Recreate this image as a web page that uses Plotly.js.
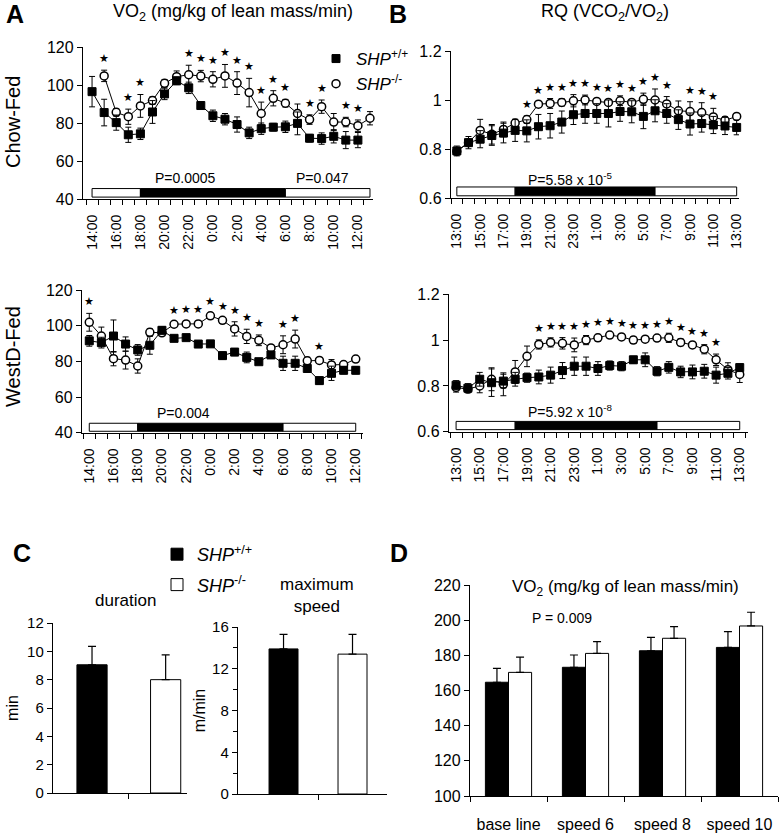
<!DOCTYPE html>
<html><head><meta charset="utf-8">
<script src="https://cdn.plot.ly/plotly-3.0.1.min.js"></script>
<style>html,body{margin:0;padding:0;background:#fff}#chart{width:781px;height:834px}</style>
</head><body><div id="chart"></div>
<script>
// ================= DATA =================
const genotypes = ['+/+', '-/-'];

// Panel A top: VO2, Chow-Fed
const hoursA1 = ['14:00','15:00','16:00','17:00','18:00','19:00','20:00','21:00','22:00','23:00','0:00','1:00','2:00','3:00','4:00','5:00','6:00','7:00','8:00','9:00','10:00','11:00','12:00','13:00'];
const chowVO2_WT    = [96.5, 85.5, 80.2, 73.8, 74.3, 85.8, 95.3, 102.2, 98.5, 89.2, 83.8, 82.0, 79.2, 74.8, 77.0, 77.8, 78.0, 79.8, 72.0, 71.8, 73.0, 71.0, 71.0, null];
const chowVO2_WTerr = [8, 7, 4, 4, 3, 6, 3, 2, 3, 1.5, 3, 3, 4, 3, 3, 2, 3, 6, 2, 3, 3.5, 4.5, 4, null];
const chowVO2_KO    = [null, 104.8, 85.6, 83.3, 89.0, 91.8, 100.9, 104.4, 105.4, 104.7, 103.0, 104.8, 101.0, 96.0, 85.0, 93.0, 90.4, 85.0, 81.8, 88.6, 80.5, 80.5, 78.6, 82.5];
const chowVO2_KOerr = [null, 3, 2, 4, 6, 2, 2, 3, 5, 3, 4, 6, 6, 7.5, 6, 4, 2, 5, 2.5, 3.5, 4.5, 2.5, 3, 3.5];
const chowVO2_stars = ['15:00','17:00','18:00','22:00','23:00','0:00','1:00','2:00','3:00','4:00','5:00','6:00','8:00','9:00','11:00','12:00'];

// Panel A bottom: VO2, WestD-Fed
const hoursA2 = ['14:00','15:00','16:00','17:00','18:00','19:00','20:00','21:00','22:00','23:00','0:00','1:00','2:00','3:00','4:00','5:00','6:00','7:00','8:00','9:00','10:00','11:00','12:00'];
const westVO2_WT    = [91.5, 90.5, 94.2, 89.7, 86.4, 89.0, 97.4, 92.9, 93.3, 89.7, 89.8, 83.2, 85.2, 82.2, 79.8, 83.6, 78.9, 78.9, 76.0, 69.2, 73.3, 75.0, 75.0];
const westVO2_WTerr = [3, 3, 9, 4, 3, 5, 2, 1.5, 1.5, 1.5, 1.5, 2, 2, 3, 1.5, 2, 4, 4, 2, 2, 4, 2, 2];
const westVO2_KO    = [101.9, 94.2, 81.5, 80.7, 77.4, 96.3, 96.0, 100.8, 101.0, 101.0, 105.5, 103.0, 98.2, 94.0, 91.8, 87.5, 89.3, 92.5, 80.3, 80.5, 78.0, 78.2, 81.3];
const westVO2_KOerr = [5, 5, 4, 5, 4, 2, 1.5, 1.5, 1.5, 1.5, 1.5, 1.5, 4, 4, 3, 1.5, 5, 5, 2, 1.5, 3, 1.5, 1.5];
const westVO2_stars = ['14:00','21:00','22:00','23:00','0:00','1:00','2:00','3:00','4:00','6:00','7:00','9:00'];

// Panel B: RQ
const hoursB = ['13:00','14:00','15:00','16:00','17:00','18:00','19:00','20:00','21:00','22:00','23:00','0:00','1:00','2:00','3:00','4:00','5:00','6:00','7:00','8:00','9:00','10:00','11:00','12:00','13:00'];
const chowRQ_WT    = [0.792, 0.826, 0.840, 0.855, 0.865, 0.876, 0.874, 0.891, 0.895, 0.910, 0.940, 0.945, 0.945, 0.945, 0.953, 0.952, 0.933, 0.956, 0.945, 0.920, 0.902, 0.904, 0.898, 0.894, 0.888];
const chowRQ_WTerr = [0.02, 0.025, 0.035, 0.04, 0.04, 0.045, 0.045, 0.05, 0.05, 0.045, 0.04, 0.04, 0.04, 0.055, 0.04, 0.045, 0.05, 0.045, 0.04, 0.04, 0.045, 0.035, 0.035, 0.035, 0.03];
const chowRQ_KO    = [0.790, 0.826, 0.876, 0.860, 0.880, 0.906, 0.920, 0.983, 0.986, 0.990, 0.997, 1.000, 0.994, 0.990, 0.997, 0.990, 1.003, 1.000, 0.984, 0.956, 0.953, 0.949, 0.931, 0.917, 0.933];
const chowRQ_KOerr = [0.01, 0.01, 0.045, 0.04, 0.03, 0.015, 0.015, 0.01, 0.02, 0.015, 0.025, 0.02, 0.01, 0.01, 0.02, 0.01, 0.025, 0.045, 0.03, 0.04, 0.04, 0.04, 0.035, 0.015, 0.005];
const chowRQ_stars = ['19:00','20:00','21:00','22:00','23:00','0:00','1:00','2:00','3:00','4:00','5:00','6:00','7:00','9:00','10:00','11:00'];

const westRQ_WT    = [0.803, 0.790, 0.829, 0.814, 0.821, 0.829, 0.836, 0.839, 0.847, 0.867, 0.886, 0.886, 0.876, 0.889, 0.886, 0.914, 0.914, 0.864, 0.881, 0.861, 0.861, 0.864, 0.847, 0.855, 0.880];
const westRQ_WTerr = [0.02, 0.02, 0.03, 0.06, 0.03, 0.03, 0.02, 0.03, 0.035, 0.035, 0.04, 0.04, 0.03, 0.02, 0.02, 0.015, 0.03, 0.02, 0.025, 0.025, 0.03, 0.03, 0.035, 0.025, 0.015];
const westRQ_KO    = [0.793, 0.786, 0.800, 0.829, 0.807, 0.861, 0.929, 0.981, 0.990, 0.986, 0.979, 1.000, 1.010, 1.022, 1.014, 1.000, 1.004, 1.009, 1.010, 0.990, 0.979, 0.960, 0.914, 0.871, 0.850];
const westRQ_KOerr = [0.02, 0.01, 0.03, 0.05, 0.05, 0.05, 0.045, 0.02, 0.02, 0.025, 0.03, 0.02, 0.015, 0.01, 0.01, 0.015, 0.01, 0.01, 0.02, 0.015, 0.01, 0.02, 0.025, 0.03, 0.035];
const westRQ_stars = ['20:00','21:00','22:00','23:00','0:00','1:00','2:00','3:00','4:00','5:00','6:00','7:00','8:00','9:00','10:00','11:00'];

const darkStart = '18:00', darkEnd = '6:00';

// Panel C: treadmill exhaustion
const durationMean = [9.05, 8.0];
const durationErr  = [1.3, 1.75];
const speedMean    = [13.9, 13.4];
const speedErr     = [1.4, 1.9];

// Panel D: VO2 during exercise
const stages   = ['base line', 'speed 6', 'speed 8', 'speed 10'];
const exVO2_WT    = [164.7, 173.2, 182.6, 184.5];
const exVO2_WTerr = [7.9, 7.0, 7.6, 9.0];
const exVO2_KO    = [170.3, 181.1, 189.7, 196.7];
const exVO2_KOerr = [8.7, 6.7, 6.6, 7.8];

// ================= STYLE / LAYOUT =================
const W = 781, H = 834;
const px = v => v / W, py = v => 1 - v / H;
const FONT = 'Arial, "Liberation Sans", sans-serif';
const BLK = 'black';
const gLabel = g => '<i>SHP</i><sup>' + g + '</sup>';
const wtMarker = {symbol: 'square', size: 8, color: BLK, line: {color: BLK, width: 1}};
const koMarker = {symbol: 'circle', size: 8, color: 'white', line: {color: BLK, width: 1.5}};

const data = [];
const annotations = [];
const shapes = [];

function linePanel(xa, ya, labels, wt, wtErr, ko, koErr, stars, lightY) {
  const x = labels.map((_, i) => i);
  data.push({type: 'scatter', mode: 'lines+markers', x, y: ko, xaxis: xa, yaxis: ya,
    name: gLabel(genotypes[1]), showlegend: false, cliponaxis: false,
    line: {color: BLK, width: 1}, marker: koMarker,
    error_y: {type: 'data', array: koErr, color: BLK, thickness: 1, width: 3}});
  data.push({type: 'scatter', mode: 'lines+markers', x, y: wt, xaxis: xa, yaxis: ya,
    name: gLabel(genotypes[0]), showlegend: false, cliponaxis: false,
    line: {color: BLK, width: 1}, marker: wtMarker,
    error_y: {type: 'data', array: wtErr, color: BLK, thickness: 1, width: 3}});
  const xref = 'x' + (xa === 'x' ? '' : xa.slice(1));
  const yref = 'y' + (ya === 'y' ? '' : ya.slice(1));
  stars.forEach(s => {
    const i = labels.indexOf(s);
    const tops = [];
    if (ko[i] != null) tops.push(ko[i] + (koErr[i] || 0));
    if (wt[i] != null) tops.push(wt[i] + (wtErr[i] || 0));
    annotations.push({xref, yref, x: i, y: Math.max(...tops), text: '★', showarrow: false,
      xanchor: 'center', yanchor: 'middle', yshift: 12, font: {size: 11, color: BLK}});
  });
  // light / dark bar
  const n = labels.length - 1;
  const ds = labels.indexOf(darkStart), de = labels.indexOf(darkEnd);
  [[0, ds, 'white'], [ds, de, BLK], [de, n, 'white']].forEach(([a, b, c]) => {
    shapes.push({type: 'rect', xref, yref, x0: a, x1: b, y0: lightY[0], y1: lightY[1],
      fillcolor: c, line: {color: BLK, width: 1}});
  });
}

linePanel('x', 'y', hoursA1, chowVO2_WT, chowVO2_WTerr, chowVO2_KO, chowVO2_KOerr, chowVO2_stars, [41, 45.5]);
linePanel('x2', 'y2', hoursB, chowRQ_WT, chowRQ_WTerr, chowRQ_KO, chowRQ_KOerr, chowRQ_stars, [0.609, 0.645]);
linePanel('x3', 'y3', hoursA2, westVO2_WT, westVO2_WTerr, westVO2_KO, westVO2_KOerr, westVO2_stars, [40.8, 45.3]);
linePanel('x4', 'y4', hoursB, westRQ_WT, westRQ_WTerr, westRQ_KO, westRQ_KOerr, westRQ_stars, [0.609, 0.645]);

// legend entries for panel A
data.push({type: 'scatter', mode: 'markers', x: [null], y: [null], xaxis: 'x', yaxis: 'y',
  name: gLabel(genotypes[0]), marker: wtMarker, legend: 'legend'});
data.push({type: 'scatter', mode: 'markers', x: [null], y: [null], xaxis: 'x', yaxis: 'y',
  name: gLabel(genotypes[1]), marker: koMarker, legend: 'legend'});

// Panel C bars
const barFill = ['black', 'white'];
genotypes.forEach((g, i) => {
  data.push({type: 'bar', x: [i], y: [durationMean[i]], width: 0.41, xaxis: 'x5', yaxis: 'y5',
    name: gLabel(g), legend: 'legend2', showlegend: true, legendgroup: 'g' + i,
    marker: {color: barFill[i], line: {color: BLK, width: 1}},
    error_y: {type: 'data', symmetric: false, array: [durationErr[i]], arrayminus: [0], color: BLK, thickness: 1.2, width: 4}});
  data.push({type: 'bar', x: [i], y: [speedMean[i]], width: 0.42, xaxis: 'x6', yaxis: 'y6',
    name: gLabel(g), showlegend: false,
    marker: {color: barFill[i], line: {color: BLK, width: 1}},
    error_y: {type: 'data', symmetric: false, array: [speedErr[i]], arrayminus: [0], color: BLK, thickness: 1.2, width: 4}});
});

// Panel D bars
const sx = stages.map((_, i) => i);
[[exVO2_WT, exVO2_WTerr, -0.3, 0], [exVO2_KO, exVO2_KOerr, 0, 1]].forEach(([y, e, off, gi]) => {
  data.push({type: 'bar', x: sx, y, width: 0.3, offset: off, xaxis: 'x7', yaxis: 'y7',
    name: gLabel(genotypes[gi]), showlegend: false,
    marker: {color: barFill[gi], line: {color: BLK, width: 1}},
    error_y: {type: 'data', symmetric: false, array: e, arrayminus: e.map(() => 0), color: BLK, thickness: 1.2, width: 4}});
});

// ---------- axes ----------
function timeX(domain, range, labels, anchor) {
  const idx = labels.map((_, i) => i).filter(i => i % 2 === 0);
  return {domain, range, anchor, showline: true, linecolor: BLK, linewidth: 1.2, zeroline: false, showgrid: false,
    tickmode: 'array', tickvals: idx, ticktext: idx.map(i => labels[i]), ticks: '', tickangle: -90,
    ticklabelstandoff: 9, tickfont: {family: FONT, size: 14, color: BLK},
    minor: {tickmode: 'linear', tick0: -0.5, dtick: 1, ticks: 'outside', ticklen: 5, tickwidth: 1, tickcolor: BLK, showgrid: false}};
}
function valY(domain, range, dtick, anchor, size, extra) {
  return Object.assign({domain, range, anchor, showline: true, linecolor: BLK, linewidth: 1.2, zeroline: false, showgrid: false,
    tickmode: 'linear', tick0: range[0], dtick, ticks: 'outside', ticklen: 5, tickwidth: 1, tickcolor: BLK,
    tickfont: {family: FONT, size, color: BLK}}, extra || {});
}
function catX(domain, range, tickvals, anchor, extra) {
  return Object.assign({domain, range, anchor, showline: true, linecolor: BLK, linewidth: 1.2, zeroline: false, showgrid: false,
    tickmode: 'array', tickvals, showticklabels: false, ticks: 'outside', ticklen: 5, tickcolor: BLK,
    tickfont: {family: FONT, size: 16, color: BLK}}, extra || {});
}

const layout = {
  width: W, height: H, margin: {l: 0, r: 0, t: 0, b: 0}, paper_bgcolor: 'white', plot_bgcolor: 'rgba(0,0,0,0)',
  font: {family: FONT, color: BLK}, barmode: 'overlay', hovermode: false,
  xaxis:  timeX([px(83), px(373)], [-0.75, 23.25], hoursA1, 'y'),
  yaxis:  valY([py(199), py(47)], [40, 120], 20, 'x', 16),
  xaxis2: timeX([px(451), px(739)], [-0.5, 24.2], hoursB, 'y2'),
  yaxis2: valY([py(198), py(51)], [0.6, 1.2], 0.2, 'x2', 16),
  xaxis3: timeX([px(82), px(363)], [-0.6, 22.6], hoursA2, 'y3'),
  yaxis3: valY([py(432.7), py(290)], [40, 120], 20, 'x3', 16),
  xaxis4: timeX([px(449), px(748)], [-0.6, 24.7], hoursB, 'y4'),
  yaxis4: valY([py(431.7), py(294.3)], [0.6, 1.2], 0.2, 'x4', 16),
  xaxis5: catX([px(53), px(187)], [-0.53, 1.29], [0.5], 'y5'),
  yaxis5: valY([py(793), py(623)], [0, 12], 2, 'x5', 15,
    {title: {text: 'min', font: {family: FONT, size: 16, color: BLK}, standoff: 4}}),
  xaxis6: catX([px(238), px(387)], [-0.66, 1.5], [0.5], 'y6'),
  yaxis6: valY([py(794), py(627)], [0, 16], 4, 'x6', 15,
    {minor: {tickmode: 'linear', tick0: 0, dtick: 2, ticks: 'outside', ticklen: 4, tickcolor: BLK},
     title: {text: 'm/min', font: {family: FONT, size: 16, color: BLK}, standoff: 2}}),
  xaxis7: catX([px(470), px(778)], [-0.5, 3.5], sx, 'y7',
    {ticks: '', showticklabels: true, ticktext: stages, ticklabelstandoff: 14,
     minor: {tickmode: 'linear', tick0: -0.5, dtick: 1, ticks: 'outside', ticklen: 5, tickcolor: BLK}}),
  yaxis7: valY([py(796), py(585)], [100, 220], 20, 'x7', 16),
  legend: {x: px(316), y: py(41), xanchor: 'left', yanchor: 'top', bgcolor: 'rgba(0,0,0,0)',
    font: {family: FONT, size: 17, color: BLK}, itemclick: false, itemdoubleclick: false, tracegroupgap: 0},
  legend2: {x: px(157), y: py(536), xanchor: 'left', yanchor: 'top', bgcolor: 'rgba(0,0,0,0)',
    font: {family: FONT, size: 18, color: BLK}, itemclick: false, itemdoubleclick: false, tracegroupgap: 4},
  shapes,
  annotations: annotations.concat([
    {text: '<b>A</b>', x: px(15), y: py(14), size: 25},
    {text: 'VO<sub>2</sub> (mg/kg of lean mass/min)', x: px(233), y: py(12), size: 18},
    {text: '<b>B</b>', x: px(398), y: py(14), size: 25},
    {text: 'RQ (VCO<sub>2</sub>/VO<sub>2</sub>)', x: px(605), y: py(12), size: 18},
    {text: 'Chow-Fed', x: px(13), y: py(122), size: 20, angle: -90},
    {text: 'WestD-Fed', x: px(13), y: py(357), size: 20, angle: -90},
    {text: 'P=0.0005', x: px(185), y: py(178), size: 14},
    {text: 'P=0.047', x: px(322), y: py(178), size: 14},
    {text: 'P=0.004', x: px(183), y: py(413), size: 14},
    {text: 'P=5.58 x 10<sup>-5</sup>', x: px(570), y: py(179), size: 14},
    {text: 'P=5.92 x 10<sup>-8</sup>', x: px(570), y: py(411), size: 14},
    {text: '<b>C</b>', x: px(22), y: py(553), size: 25},
    {text: '<b>D</b>', x: px(399), y: py(553), size: 25},
    {text: 'duration', x: px(125), y: py(600), size: 17},
    {text: 'maximum<br>speed', x: px(317), y: py(595), size: 17},
    {text: 'VO<sub>2</sub> (mg/kg of lean mass/min)', x: px(625), y: py(588), size: 17},
    {text: 'P = 0.009', x: px(562), y: py(618), size: 14}
  ].map(a => ({xref: 'paper', yref: 'paper', x: a.x, y: a.y, text: a.text, showarrow: false,
    xanchor: 'center', yanchor: 'middle', textangle: a.angle || 0,
    font: {family: FONT, size: a.size, color: BLK}})))
};

Plotly.newPlot('chart', data, layout, {staticPlot: true, displayModeBar: false});
</script></body></html>
